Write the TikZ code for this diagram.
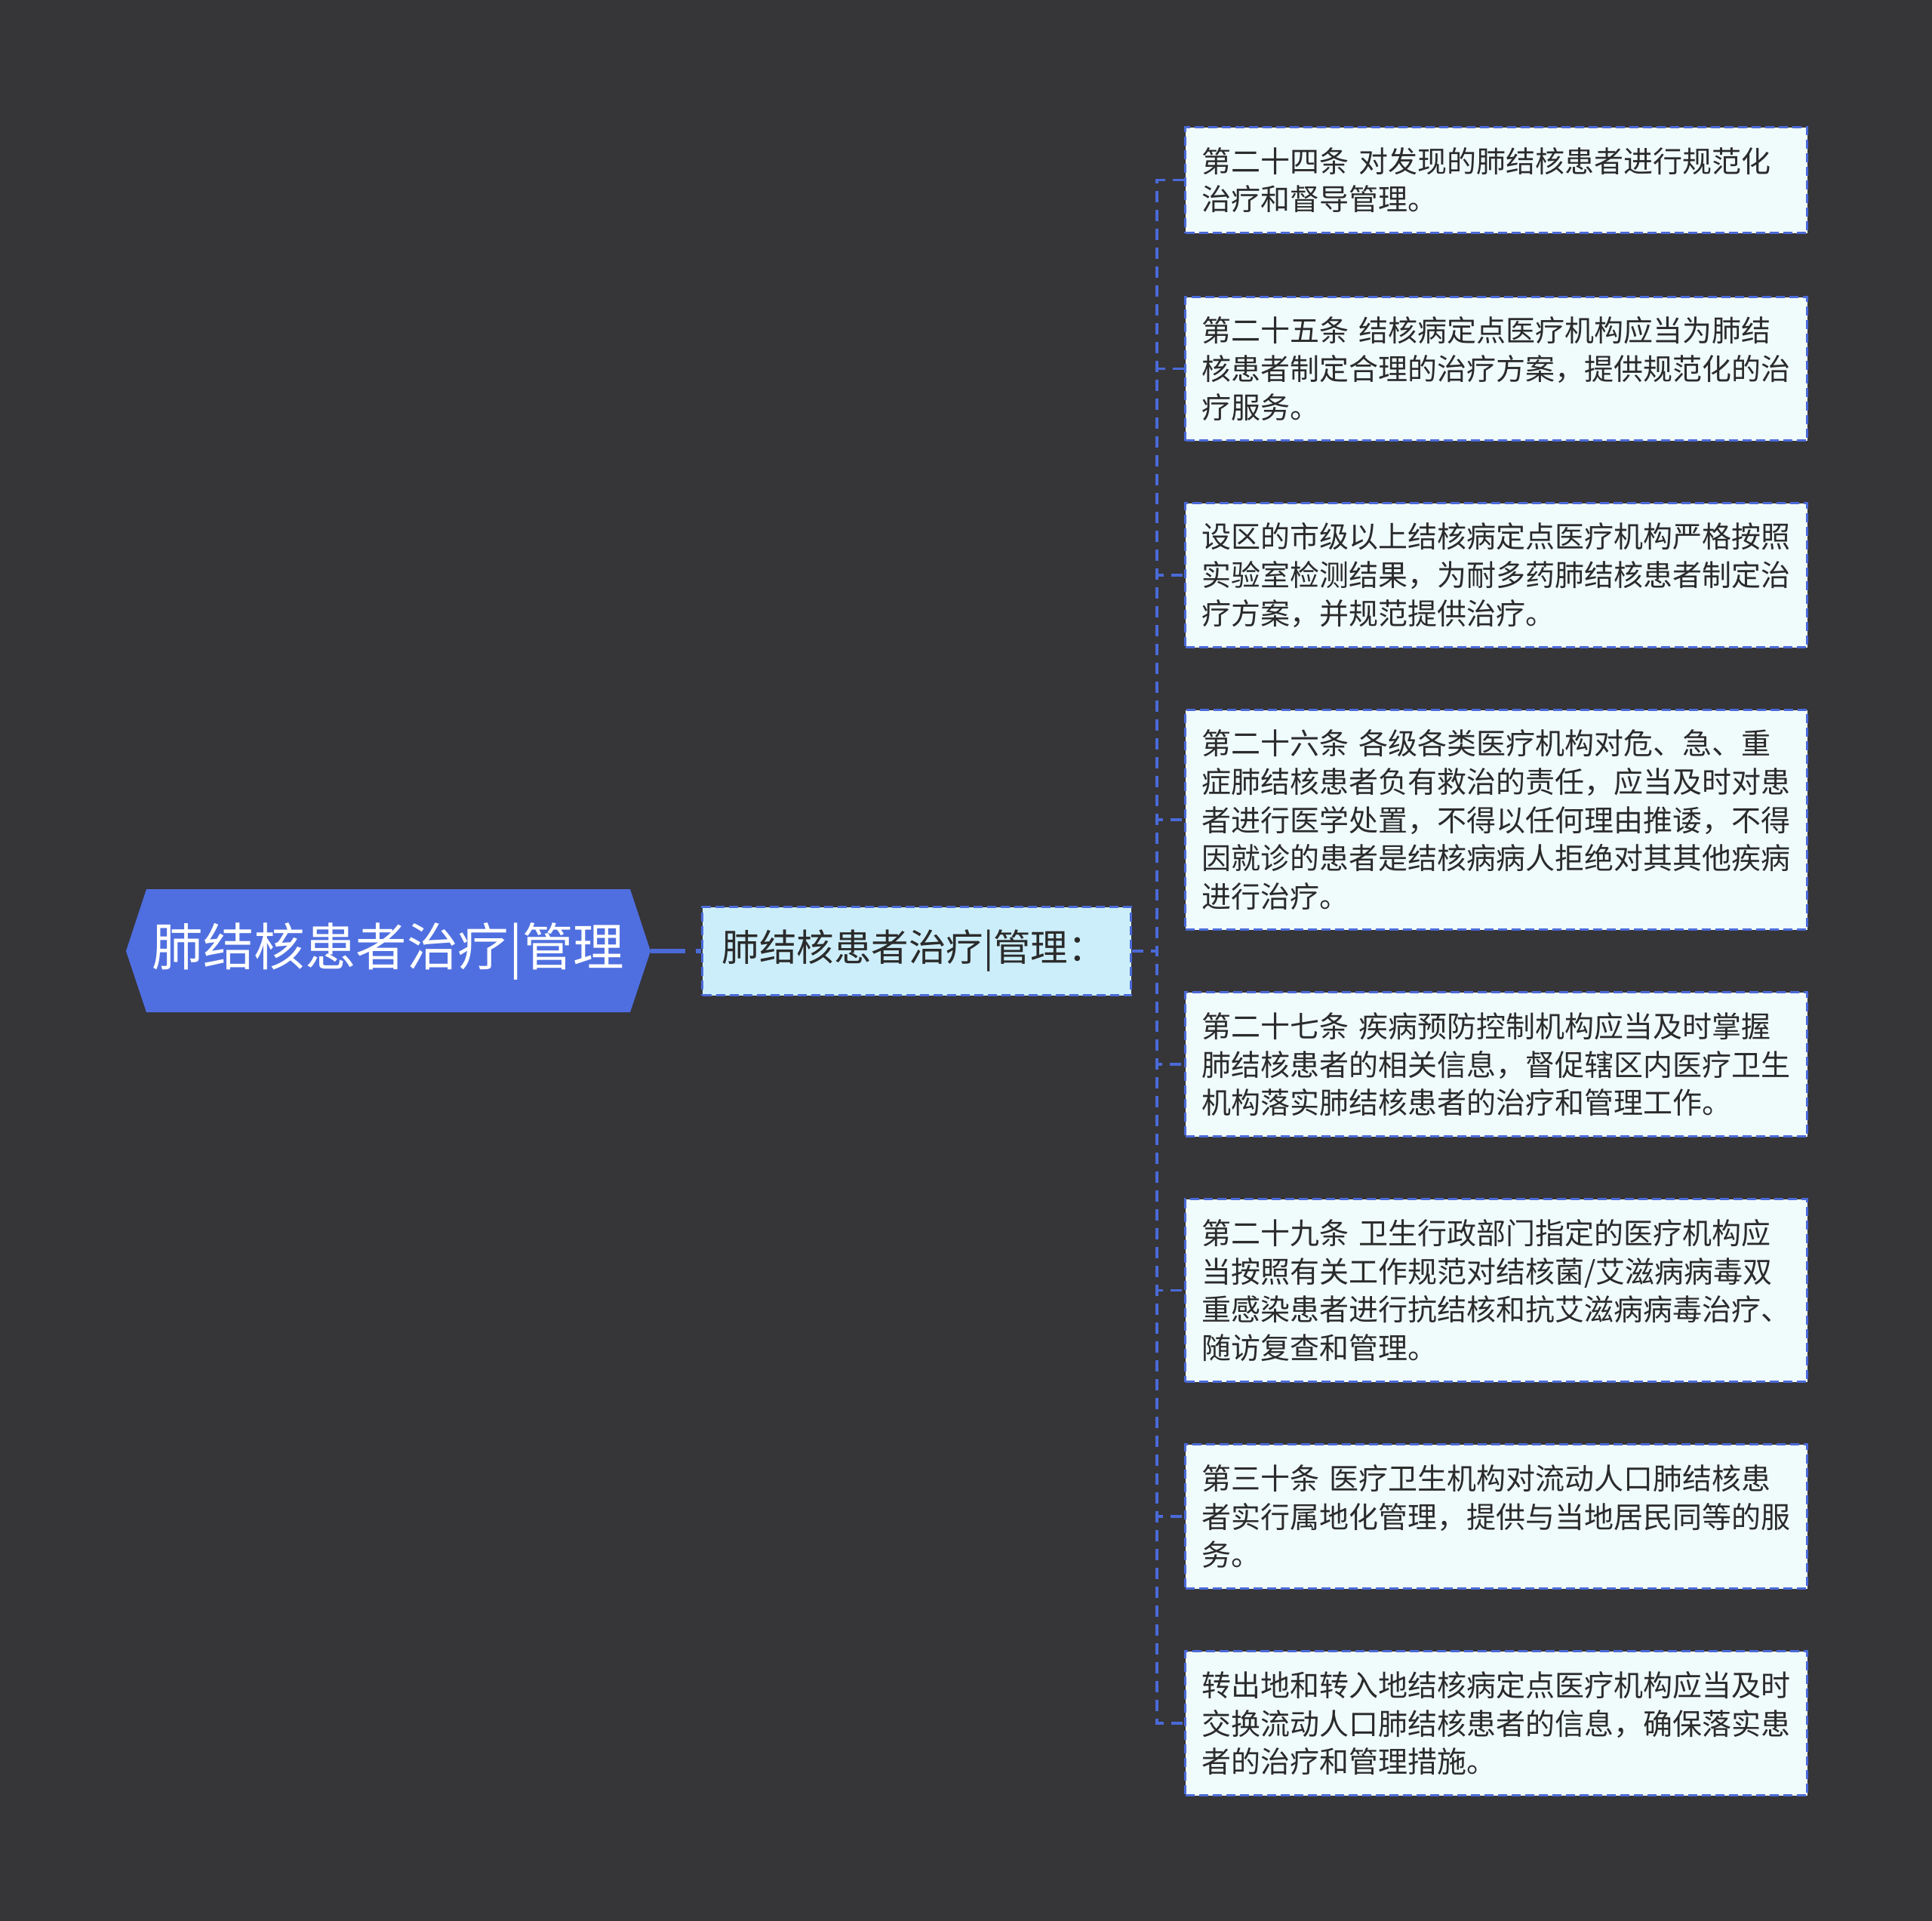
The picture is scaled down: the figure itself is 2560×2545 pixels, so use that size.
\documentclass[tikz,border=0pt]{standalone}
\usepackage{fontspec}
\setmainfont{Noto Sans CJK SC}
\definecolor{bgc}{HTML}{363538}
\definecolor{rootblue}{HTML}{4F6FE0}
\definecolor{lineblue}{HTML}{4A6AD8}
\definecolor{midfill}{HTML}{CCEEFB}
\definecolor{leaffill}{HTML}{F0FBFC}
\definecolor{txt}{HTML}{2B2B2B}
\tikzset{
  leafbox/.style={draw=lineblue, line width=3.2pt, dash pattern=on 12pt off 6pt, fill=leaffill,
    anchor=north west, minimum width=824pt, inner xsep=22pt, inner ysep=0pt,
    text width=780pt, align=left, text=txt,
    font=\fontsize{39}{50.6}\selectfont},
  conn/.style={draw=lineblue, line width=3.5pt, dash pattern=on 15pt off 10pt},
}
\begin{document}
\begin{tikzpicture}[x=1pt,y=-1pt]
\fill[bgc] (0,0) rectangle (2560,2545);
\useasboundingbox (0,0) rectangle (2560,2545);
% root hexagon
\fill[rootblue] (167,1260) -- (194,1178) -- (835,1178) -- (862,1260) -- (835,1341) -- (194,1341) -- cycle;
\node (root) at (514.5,1260) [minimum width=695pt, minimum height=163pt, inner sep=0pt, text=white,
  font=\fontsize{67.5}{70}\selectfont] {肺结核患者治疗|管理};
% middle node
\node (mid) at (929,1260) [anchor=west, draw=lineblue, line width=3.2pt, dash pattern=on 12pt off 6pt,
  fill=midfill, minimum width=568pt, minimum height=117pt, inner xsep=26pt, text width=516pt,
  align=left, text=txt, font=\fontsize{49.5}{52}\selectfont] {肺结核患者治疗|管理：};
\coordinate (j) at (1533,1260);
% leaves
\node[leafbox, minimum height=140pt] (l1) at (1569,167) {第二十四条 对发现的肺结核患者进行规范化\\治疗和督导管理。};
\node[leafbox, minimum height=190pt] (l2) at (1569,392) {第二十五条 结核病定点医疗机构应当为肺结\\核患者制定合理的治疗方案，提供规范化的治\\疗服务。};
\node[leafbox, minimum height=191pt] (l3) at (1569,665) {设区的市级以上结核病定点医疗机构严格按照\\实验室检测结果，为耐多药肺结核患者制定治\\疗方案，并规范提供治疗。};
\node[leafbox, minimum height=291pt] (l4) at (1569,939) {第二十六条 各级各类医疗机构对危、急、重\\症肺结核患者负有救治的责任，应当及时对患\\者进行医学处置，不得以任何理由推诿，不得\\因就诊的患者是结核病病人拒绝对其其他疾病\\进行治疗。};
\node[leafbox, minimum height=191pt] (l5) at (1569,1313) {第二十七条 疾病预防控制机构应当及时掌握\\肺结核患者的相关信息，督促辖区内医疗卫生\\机构落实肺结核患者的治疗和管理工作。};
\node[leafbox, minimum height=242pt] (l6) at (1569,1587) {第二十九条 卫生行政部门指定的医疗机构应\\当按照有关工作规范对结核菌/艾滋病病毒双\\重感染患者进行抗结核和抗艾滋病病毒治疗、\\随访复查和管理。};
\node[leafbox, minimum height=191pt] (l7) at (1569,1912) {第三十条 医疗卫生机构对流动人口肺结核患\\者实行属地化管理，提供与当地居民同等的服\\务。};
\node[leafbox, minimum height=191pt] (l8) at (1569,2186) {转出地和转入地结核病定点医疗机构应当及时\\交换流动人口肺结核患者的信息，确保落实患\\者的治疗和管理措施。};
% connectors
\draw[draw=lineblue, line width=6pt, dash pattern=on 46pt off 14pt] (root.east) -- (mid.west);
\foreach \n in {l1,l2,l3,l4,l5,l6,l7,l8}{
  \draw[conn] (mid.east) -- (j) |- (\n.west);
}
\end{tikzpicture}
\end{document}
